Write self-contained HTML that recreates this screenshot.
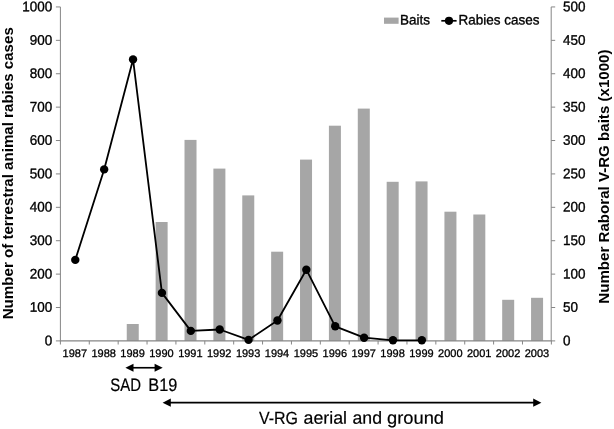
<!DOCTYPE html>
<html><head><meta charset="utf-8"><title>Chart</title>
<style>html,body{margin:0;padding:0;background:#fff}body{width:614px;height:429px;overflow:hidden}</style></head>
<body>
<svg width="614" height="429" viewBox="0 0 614 429" style="display:block;will-change:transform;font-family:'Liberation Sans',sans-serif">
<rect width="614" height="429" fill="#fff"/>
<rect x="126.75" y="324" width="12.0" height="16.90" fill="#a6a6a6"/>
<rect x="155.63" y="222" width="12.0" height="118.90" fill="#a6a6a6"/>
<rect x="184.51" y="139.9" width="12.0" height="201.00" fill="#a6a6a6"/>
<rect x="213.39" y="168.6" width="12.0" height="172.30" fill="#a6a6a6"/>
<rect x="242.27" y="195.4" width="12.0" height="145.50" fill="#a6a6a6"/>
<rect x="271.15" y="251.7" width="12.0" height="89.20" fill="#a6a6a6"/>
<rect x="300.03" y="159.6" width="12.0" height="181.30" fill="#a6a6a6"/>
<rect x="328.91" y="125.7" width="12.0" height="215.20" fill="#a6a6a6"/>
<rect x="357.79" y="108.6" width="12.0" height="232.30" fill="#a6a6a6"/>
<rect x="386.67" y="181.8" width="12.0" height="159.10" fill="#a6a6a6"/>
<rect x="415.55" y="181.4" width="12.0" height="159.50" fill="#a6a6a6"/>
<rect x="444.43" y="211.7" width="12.0" height="129.20" fill="#a6a6a6"/>
<rect x="473.31" y="214.5" width="12.0" height="126.40" fill="#a6a6a6"/>
<rect x="502.19" y="299.8" width="12.0" height="41.10" fill="#a6a6a6"/>
<rect x="531.07" y="297.8" width="12.0" height="43.10" fill="#a6a6a6"/>
<g stroke="#868686" stroke-width="1" fill="none">
<path d="M60.4 6.95V340.9M551.2 6.95V340.9"/><path d="M59.9 340.9H551.7" stroke-width="1.2"/>
<path d="M55.9 340.90H60.4"/>
<path d="M551.2 340.90H555.2"/>
<path d="M55.9 307.50H60.4"/>
<path d="M551.2 307.50H555.2"/>
<path d="M55.9 274.11H60.4"/>
<path d="M551.2 274.11H555.2"/>
<path d="M55.9 240.71H60.4"/>
<path d="M551.2 240.71H555.2"/>
<path d="M55.9 207.32H60.4"/>
<path d="M551.2 207.32H555.2"/>
<path d="M55.9 173.92H60.4"/>
<path d="M551.2 173.92H555.2"/>
<path d="M55.9 140.53H60.4"/>
<path d="M551.2 140.53H555.2"/>
<path d="M55.9 107.13H60.4"/>
<path d="M551.2 107.13H555.2"/>
<path d="M55.9 73.74H60.4"/>
<path d="M551.2 73.74H555.2"/>
<path d="M55.9 40.35H60.4"/>
<path d="M551.2 40.35H555.2"/>
<path d="M55.9 6.95H60.4"/>
<path d="M551.2 6.95H555.2"/>
<path d="M60.40 340.9V344.5"/>
<path d="M89.28 340.9V344.5"/>
<path d="M118.16 340.9V344.5"/>
<path d="M147.04 340.9V344.5"/>
<path d="M175.92 340.9V344.5"/>
<path d="M204.80 340.9V344.5"/>
<path d="M233.68 340.9V344.5"/>
<path d="M262.56 340.9V344.5"/>
<path d="M291.44 340.9V344.5"/>
<path d="M320.32 340.9V344.5"/>
<path d="M349.20 340.9V344.5"/>
<path d="M378.08 340.9V344.5"/>
<path d="M406.96 340.9V344.5"/>
<path d="M435.84 340.9V344.5"/>
<path d="M464.72 340.9V344.5"/>
<path d="M493.60 340.9V344.5"/>
<path d="M522.48 340.9V344.5"/>
<path d="M551.36 340.9V344.5"/>
</g>
<g font-size="13.9" fill="#000" stroke="#000" stroke-width="0.35">
<text transform="translate(52.3,345.20) rotate(0.03) scale(.97,1)" text-anchor="end">0</text>
<text transform="translate(563,345.20) rotate(0.03) scale(.97,1)">0</text>
<text transform="translate(52.3,311.81) rotate(0.03) scale(.97,1)" text-anchor="end">100</text>
<text transform="translate(563,311.81) rotate(0.03) scale(.97,1)">50</text>
<text transform="translate(52.3,278.41) rotate(0.03) scale(.97,1)" text-anchor="end">200</text>
<text transform="translate(563,278.41) rotate(0.03) scale(.97,1)">100</text>
<text transform="translate(52.3,245.01) rotate(0.03) scale(.97,1)" text-anchor="end">300</text>
<text transform="translate(563,245.01) rotate(0.03) scale(.97,1)">150</text>
<text transform="translate(52.3,211.62) rotate(0.03) scale(.97,1)" text-anchor="end">400</text>
<text transform="translate(563,211.62) rotate(0.03) scale(.97,1)">200</text>
<text transform="translate(52.3,178.22) rotate(0.03) scale(.97,1)" text-anchor="end">500</text>
<text transform="translate(563,178.22) rotate(0.03) scale(.97,1)">250</text>
<text transform="translate(52.3,144.83) rotate(0.03) scale(.97,1)" text-anchor="end">600</text>
<text transform="translate(563,144.83) rotate(0.03) scale(.97,1)">300</text>
<text transform="translate(52.3,111.43) rotate(0.03) scale(.97,1)" text-anchor="end">700</text>
<text transform="translate(563,111.43) rotate(0.03) scale(.97,1)">350</text>
<text transform="translate(52.3,78.04) rotate(0.03) scale(.97,1)" text-anchor="end">800</text>
<text transform="translate(563,78.04) rotate(0.03) scale(.97,1)">400</text>
<text transform="translate(52.3,44.65) rotate(0.03) scale(.97,1)" text-anchor="end">900</text>
<text transform="translate(563,44.65) rotate(0.03) scale(.97,1)">450</text>
<text transform="translate(52.3,11.25) rotate(0.03) scale(.97,1)" text-anchor="end">1000</text>
<text transform="translate(563,11.25) rotate(0.03) scale(.97,1)">500</text>
</g>
<g font-size="11" fill="#000" text-anchor="middle" stroke="#000" stroke-width="0.3">
<text transform="translate(74.84,357.1) rotate(0.03)">1987</text>
<text transform="translate(103.72,357.1) rotate(0.03)">1988</text>
<text transform="translate(132.60,357.1) rotate(0.03)">1989</text>
<text transform="translate(161.48,357.1) rotate(0.03)">1990</text>
<text transform="translate(190.36,357.1) rotate(0.03)">1991</text>
<text transform="translate(219.24,357.1) rotate(0.03)">1992</text>
<text transform="translate(248.12,357.1) rotate(0.03)">1993</text>
<text transform="translate(277.00,357.1) rotate(0.03)">1994</text>
<text transform="translate(305.88,357.1) rotate(0.03)">1995</text>
<text transform="translate(334.76,357.1) rotate(0.03)">1996</text>
<text transform="translate(363.64,357.1) rotate(0.03)">1997</text>
<text transform="translate(392.52,357.1) rotate(0.03)">1998</text>
<text transform="translate(421.40,357.1) rotate(0.03)">1999</text>
<text transform="translate(450.28,357.1) rotate(0.03)">2000</text>
<text transform="translate(479.16,357.1) rotate(0.03)">2001</text>
<text transform="translate(508.04,357.1) rotate(0.03)">2002</text>
<text transform="translate(536.92,357.1) rotate(0.03)">2003</text>
</g>
<polyline points="75.29,259.9 104.17,169.4 133.05,59.4 161.93,292.9 190.81,330.9 219.69,329.5 248.57,339.9 277.45,320.5 306.33,269.7 335.21,326.3 364.09,337.7 392.97,340.3 421.85,340.3" fill="none" stroke="#000" stroke-width="1.8" stroke-linejoin="round"/>
<circle cx="75.29" cy="259.9" r="4.2" fill="#000"/>
<circle cx="104.17" cy="169.4" r="4.2" fill="#000"/>
<circle cx="133.05" cy="59.4" r="4.2" fill="#000"/>
<circle cx="161.93" cy="292.9" r="4.2" fill="#000"/>
<circle cx="190.81" cy="330.9" r="4.2" fill="#000"/>
<circle cx="219.69" cy="329.5" r="4.2" fill="#000"/>
<circle cx="248.57" cy="339.9" r="4.2" fill="#000"/>
<circle cx="277.45" cy="320.5" r="4.2" fill="#000"/>
<circle cx="306.33" cy="269.7" r="4.2" fill="#000"/>
<circle cx="335.21" cy="326.3" r="4.2" fill="#000"/>
<circle cx="364.09" cy="337.7" r="4.2" fill="#000"/>
<circle cx="392.97" cy="340.3" r="4.2" fill="#000"/>
<circle cx="421.85" cy="340.3" r="4.2" fill="#000"/>
<text transform="translate(12.8,173.25) rotate(-90) scale(.9806,1)" text-anchor="middle" font-size="15.4" font-weight="bold">Number of terrestral animal rabies cases</text>
<text transform="translate(609.3,176.6) rotate(-90) scale(.9806,1)" text-anchor="middle" font-size="15.4" font-weight="bold">Number Raboral V-RG baits (x1000)</text>
<rect x="384" y="17.6" width="14.6" height="6.2" fill="#a6a6a6"/>
<text transform="translate(400.1,24.4) rotate(0.03) scale(.97,1)" font-size="13.9" stroke="#000" stroke-width="0.35">Baits</text>
<path d="M441.3 20.8H456.6" stroke="#000" stroke-width="1.7"/>
<circle cx="449" cy="20.8" r="4.1" fill="#000"/>
<text transform="translate(458.5,24.4) rotate(0.03) scale(.97,1)" font-size="13.9" stroke="#000" stroke-width="0.35">Rabies cases</text>
<path d="M130 367.75H158" stroke="#000" stroke-width="1.65"/>
<path d="M125.4 367.75L133.5 363.85V371.65Z M162.7 367.75L154.6 363.85V371.65Z" fill="#000"/>
<text transform="translate(110.3,390.8) rotate(0.03)" font-size="18" stroke="#000" stroke-width="0.2" textLength="30.74" lengthAdjust="spacingAndGlyphs">SAD</text>
<text transform="translate(148.25,390.8) rotate(0.03)" font-size="18" stroke="#000" stroke-width="0.2" textLength="29.06" lengthAdjust="spacingAndGlyphs">B19</text>
<path d="M168 402.65H536" stroke="#000" stroke-width="1.65"/>
<path d="M162.6 402.65L170.8 398.55V406.75Z M541.4 402.65L533.2 398.55V406.75Z" fill="#000"/>
<text transform="translate(259.0,423.8) rotate(0.03)" font-size="17.5" stroke="#000" stroke-width="0.2" textLength="39.04" lengthAdjust="spacingAndGlyphs">V-RG</text>
<text transform="translate(303.5,423.8) rotate(0.03)" font-size="17.5" stroke="#000" stroke-width="0.2" textLength="43.55" lengthAdjust="spacingAndGlyphs">aerial</text>
<text transform="translate(352.5,423.8) rotate(0.03)" font-size="17.5" stroke="#000" stroke-width="0.2" textLength="29.53" lengthAdjust="spacingAndGlyphs">and</text>
<text transform="translate(387.0,423.8) rotate(0.03)" font-size="17.5" stroke="#000" stroke-width="0.2" textLength="57.01" lengthAdjust="spacingAndGlyphs">ground</text>
</svg>
</body></html>
